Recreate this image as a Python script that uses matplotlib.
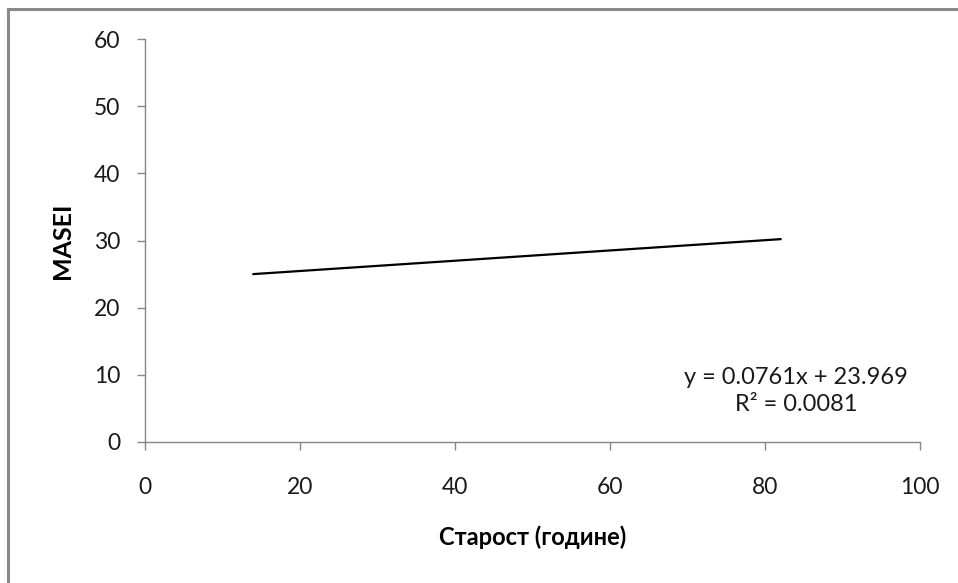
import matplotlib
matplotlib.use("Agg")
import matplotlib.pyplot as plt
from matplotlib.lines import Line2D

# trend line end points
age = [14, 82]
masei = [25.0, 30.2]
equation = "y = 0.0761x + 23.969"
r_squared = "R² = 0.0081"

x_ticks = [0, 20, 40, 60, 80, 100]
y_ticks = [0, 10, 20, 30, 40, 50, 60]

plt.rcParams['font.family'] = ['Lato', 'DejaVu Sans']

W, H = 958, 583
fig = plt.figure(figsize=(W / 100, H / 100), dpi=100)

# outer chart frame (only top and left edges are visible in the picture)
frame_col = '#8a8a8a'
fig.add_artist(Line2D([7.5 / W, 1.0], [1 - 8.5 / H, 1 - 8.5 / H], color=frame_col, lw=2.2,
                      transform=fig.transFigure))
fig.add_artist(Line2D([7.5 / W, 7.5 / W], [0.0, 1 - 8.5 / H], color=frame_col, lw=2.2,
                      transform=fig.transFigure))

ax = fig.add_axes([145 / W, 1 - 442 / H, (920 - 145) / W, (442 - 39) / H])

ax.plot(age, masei, color='black', lw=1.6)

ax.set_xlim(0, 100)
ax.set_ylim(0, 60)
ax.set_xticks(x_ticks)
ax.set_yticks(y_ticks)

axis_col = '#868686'
for side in ['top', 'right']:
    ax.spines[side].set_visible(False)
for side in ['left', 'bottom']:
    ax.spines[side].set_color(axis_col)
    ax.spines[side].set_linewidth(1.0)

ax.tick_params(axis='both', direction='out', length=6, width=1.0, color=axis_col,
               labelsize=16.5, labelcolor='#1a1a1a')
ax.tick_params(axis='y', pad=12)
ax.tick_params(axis='x', pad=19)

ax.set_xlabel('Старост (године)', fontsize=17, fontweight='bold', labelpad=20)
ax.set_ylabel('MASEI', fontsize=18, fontweight='bold', labelpad=14)

ax.text(84.0, 7.6, equation + "\n" + r_squared, ha='center', va='center',
        fontsize=17, color='#1a1a1a', linespacing=1.4)

fig.savefig('out.png', dpi=100)
